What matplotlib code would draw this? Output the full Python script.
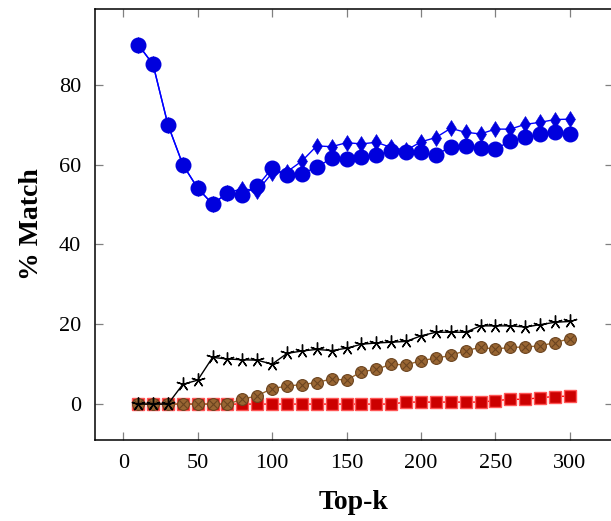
import numpy as np
import matplotlib.pyplot as plt

plt.rcParams['font.family'] = ['Liberation Serif', 'DejaVu Serif']

top_k = list(range(10, 301, 10))

blue_circle = [90.1, 85.1, 70.0, 60.0, 54.1, 50.1, 52.9, 52.5, 54.6, 59.1,
               57.5, 57.7, 59.4, 61.6, 61.5, 62.0, 62.4, 63.5, 63.2, 63.1,
               62.4, 64.5, 64.7, 64.2, 64.0, 65.8, 67.0, 67.6, 68.1, 67.8]
blue_diamond = [90.1, 85.1, 70.0, 60.0, 54.1, 50.1, 52.9, 54.0, 53.4, 57.9,
                58.2, 60.9, 64.7, 64.5, 65.5, 65.2, 65.6, 64.3, 63.6, 65.7,
                66.8, 69.1, 68.1, 67.7, 68.9, 68.9, 70.1, 70.6, 71.3, 71.4]
black_star = [0, 0, 0, 4.95, 6.0, 11.7, 11.3, 11.1, 11.0, 10.0,
              12.7, 13.3, 13.7, 13.4, 14.0, 15.0, 15.3, 15.5, 15.7, 17.1,
              18.0, 18.0, 18.0, 19.6, 19.6, 19.6, 19.3, 19.9, 20.5, 20.7]
brown_circle = [0, 0, 0, 0, 0, 0, 0, 1.2, 2.1, 3.9,
                4.5, 4.9, 5.4, 6.3, 6.0, 8.1, 8.7, 10.0, 9.8, 10.9,
                11.5, 12.2, 13.4, 14.2, 13.8, 14.2, 14.3, 14.6, 15.4, 16.4]
red_square = [0, 0, 0, 0, 0, 0, 0, 0, 0, 0,
              0, 0, 0, 0, 0, 0, 0, 0, 0.5, 0.5,
              0.5, 0.5, 0.5, 0.5, 0.85, 1.2, 1.2, 1.6, 1.9, 2.0]

fig = plt.figure(figsize=(6.11, 5.21), dpi=100)
ax = fig.add_axes([95 / 611, 81 / 521, 518 / 611, 431 / 521])

# lower series
ax.plot(top_k, red_square, color='red', lw=1, marker='s', ms=8,
        mfc='#cc0000', mec='#ff5555', mew=1)
ax.plot(top_k, brown_circle, color='#99662f', lw=1, marker='o', ms=8.5,
        mfc='#996633', mec='#6b4420', mew=0.8)
ax.plot(top_k, brown_circle, ls='none', marker='x', ms=6,
        mec='#6b4420', mew=0.8)
ax.plot(top_k, black_star, color='black', lw=1, marker=(5, 2, 0), ms=10,
        mew=1)

# upper series
ax.plot(top_k, blue_diamond, color='blue', lw=1, marker='d', ms=8.5,
        mfc='#0000dd', mec='#0000dd', mew=0.4)
ax.plot(top_k, blue_circle, color='blue', lw=1, marker='o', ms=10.5,
        mfc='#0000dd', mec='#0000dd')

ax.set_xlim(-19, 329)
ax.set_ylim(-9, 99)
ax.set_xticks([0, 50, 100, 150, 200, 250, 300])
ax.set_yticks([0, 20, 40, 60, 80])
ax.tick_params(direction='in', length=6, width=0.9, color='#808080',
               top=True, right=True, labelsize=16, pad=10)
for s in ax.spines.values():
    s.set_linewidth(1.1)

ax.set_xlabel('Top-k', fontsize=20, fontweight='bold', labelpad=12)
ax.set_ylabel('% Match', fontsize=20, fontweight='bold', labelpad=11)

fig.savefig('out.png', dpi=100)
